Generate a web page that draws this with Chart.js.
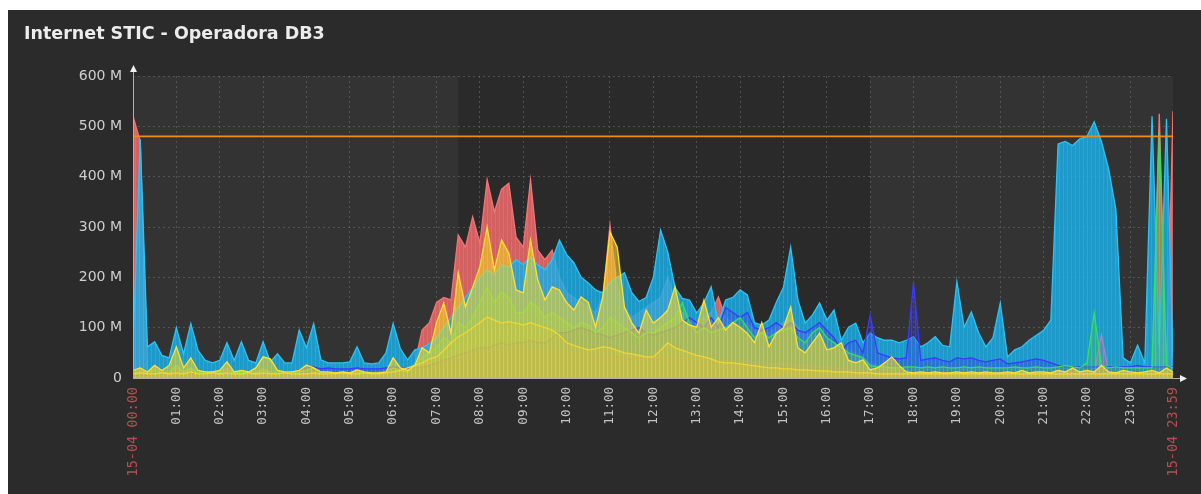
<!DOCTYPE html>
<html>
<head>
<meta charset="utf-8">
<title>Internet STIC - Operadora DB3</title>
<script src="https://cdn.jsdelivr.net/npm/chart.js@4.4.1/dist/chart.umd.min.js"></script>
<style>
    html, body { margin: 0; padding: 0; background: #ffffff; }
    #panel { position: absolute; left: 8px; top: 10px; width: 1193px; height: 484px; background: #2b2b2b; }
    canvas { display: block; }
</style>
</head>
<body>
<div id="panel"><canvas id="graph" width="1193" height="484"></canvas></div>
<script>
// --- Data (Mbps, one sample every 10 min, last sample at 23:59) ---
const times = [];
for (let m = 0; m < 1440; m += 10) times.push(m);
times.push(1439);

const hourTicks = [];
for (let h = 0; h < 24; h++) hourTicks.push(h * 60);
hourTicks.push(1439);

const yTicks = [0, 100, 200, 300, 400, 500, 600];
const threshold = 480;
const workPeriod = [450, 1020]; // 07:30 - 17:00

const cyan = [
    60, 475, 62, 72, 45, 40,      // 00
    100, 48, 108, 55, 35, 30,     // 01
    35, 70, 35, 72, 35, 30,       // 02
    72, 32, 48, 30, 30, 95,       // 03
    60, 108, 36, 30, 30, 30,      // 04
    32, 62, 30, 28, 30, 50,       // 05
    108, 58, 36, 56, 60, 68,      // 06
    80, 100, 120, 140, 160, 180,  // 07
    200, 215, 205, 225, 220, 235, // 08
    225, 240, 225, 215, 235, 274, // 09
    245, 229, 200, 189, 175, 169, // 10
    190, 200, 209, 170, 152, 160, // 11
    200, 294, 250, 180, 158, 155, // 12
    129, 150, 181, 110, 155, 160, // 13
    175, 165, 110, 105, 115, 150, // 14
    180, 260, 155, 109, 125, 149, // 15
    115, 135, 75, 101, 109, 70,   // 16
    89, 80, 75, 75, 70, 75,       // 17
    82, 62, 70, 82, 65, 62,       // 18
    191, 101, 131, 90, 62, 80,    // 19
    149, 42, 56, 62, 75, 85,      // 20
    95, 115, 465, 470, 462, 475,  // 21
    480, 509, 470, 415, 334, 40,  // 22
    30, 65, 30, 520, 60, 515,     // 23
    40
];

const red = [
    520, 470, 8, 10, 8, 10,
    12, 8, 15, 10, 8, 8,
    10, 12, 8, 10, 8, 8,
    12, 8, 10, 8, 8, 12,
    15, 18, 10, 8, 8, 8,
    8, 10, 8, 8, 8, 10,
    20, 15, 12, 30, 95, 110,
    150, 160, 155, 284, 260, 320,
    268, 394, 330, 375, 387, 280,
    260, 394, 254, 235, 254, 200,
    170, 160, 150, 140, 130, 160,
    304, 180, 140, 120, 130, 140,
    150, 160, 200, 150, 130, 120,
    110, 120, 130, 161, 120, 110,
    100, 110, 95, 90, 90, 100,
    110, 120, 100, 85, 90, 80,
    75, 70, 60, 55, 50, 40,
    30, 25, 20, 18, 15, 15,
    15, 12, 12, 10, 10, 10,
    10, 12, 10, 10, 10, 10,
    10, 10, 8, 10, 10, 8,
    10, 10, 12, 10, 10, 12,
    10, 12, 10, 10, 12, 10,
    10, 10, 10, 10, 525, 12,
    530
];

const yellow = [
    15, 20, 12, 25, 15, 25,
    62, 20, 40, 15, 12, 12,
    15, 32, 12, 15, 12, 20,
    42, 38, 15, 12, 12, 15,
    26, 20, 12, 12, 10, 12,
    10, 16, 12, 10, 10, 12,
    40, 20, 15, 25, 60, 50,
    110, 149, 89, 209, 141, 180,
    221, 300, 215, 274, 248, 175,
    169, 274, 195, 155, 181, 175,
    150, 135, 161, 150, 101, 161,
    290, 260, 141, 110, 89, 135,
    109, 120, 135, 181, 115, 105,
    101, 155, 101, 120, 95, 110,
    101, 89, 70, 110, 62, 89,
    100, 141, 60, 50, 70, 89,
    56, 60, 70, 35, 30, 36,
    16, 20, 30, 42, 25, 12,
    10, 12, 10, 12, 10, 10,
    12, 10, 12, 10, 12, 10,
    10, 12, 10, 15, 10, 12,
    12, 10, 15, 12, 20, 12,
    15, 12, 25, 12, 10, 15,
    12, 10, 12, 15, 10, 20,
    12
];

const gold = [
    8, 10, 8, 8, 10, 8,
    10, 8, 12, 8, 8, 10,
    8, 10, 8, 8, 10, 8,
    10, 8, 8, 10, 8, 8,
    8, 10, 8, 8, 8, 10,
    8, 8, 10, 8, 8, 10,
    12, 15, 20, 25, 30, 38,
    42, 55, 70, 82, 90, 100,
    110, 121, 115, 109, 112, 109,
    105, 110, 105, 100, 95, 85,
    70, 65, 60, 56, 58, 62,
    60, 55, 50, 48, 45, 42,
    42, 55, 70, 60, 55, 50,
    45, 42, 38, 32, 30, 30,
    28, 26, 24, 22, 20, 20,
    18, 18, 16, 16, 15, 14,
    14, 12, 12, 12, 10, 10,
    10, 8, 8, 8, 8, 8,
    8, 8, 8, 8, 8, 8,
    8, 8, 8, 8, 8, 8,
    8, 8, 8, 8, 8, 8,
    8, 8, 8, 8, 8, 8,
    8, 8, 8, 8, 8, 8,
    8, 8, 8, 8, 8, 8,
    8
];

const green = [
    10, 12, 10, 15, 10, 10,
    25, 12, 20, 10, 10, 10,
    10, 15, 10, 12, 10, 10,
    15, 10, 10, 10, 10, 12,
    15, 20, 10, 10, 10, 10,
    10, 12, 10, 10, 10, 10,
    20, 15, 12, 25, 40, 50,
    60, 80, 70, 110, 100, 120,
    150, 180, 150, 170, 160, 130,
    130, 150, 140, 120, 130, 120,
    110, 100, 110, 105, 90, 100,
    120, 110, 100, 90, 80, 90,
    90, 100, 110, 120, 149, 110,
    90, 100, 90, 95, 100, 110,
    120, 100, 80, 90, 80, 90,
    95, 100, 80, 70, 90, 100,
    80, 70, 60, 50, 45, 40,
    25, 22, 22, 20, 20, 22,
    22, 20, 22, 20, 22, 20,
    20, 22, 20, 22, 20, 20,
    20, 20, 22, 20, 20, 22,
    20, 20, 22, 25, 22, 20,
    30, 129, 25, 20, 22, 20,
    20, 20, 20, 20, 490, 25,
    20
];

const blue = [
    5, 5, 5, 8, 8, 8,
    10, 8, 10, 8, 8, 8,
    10, 12, 10, 10, 10, 10,
    12, 10, 10, 12, 10, 15,
    20, 22, 18, 20, 18, 18,
    18, 20, 18, 18, 18, 20,
    22, 20, 18, 20, 22, 25,
    30, 35, 40, 45, 50, 55,
    60, 60, 65, 70, 65, 70,
    70, 75, 70, 70, 80, 90,
    90, 95, 100, 95, 90, 85,
    80, 85, 90, 95, 100, 90,
    85, 90, 95, 100, 110, 120,
    110, 100, 120, 100, 140, 130,
    120, 130, 100, 95, 100, 110,
    100, 110, 95, 90, 100, 110,
    95, 80, 55, 70, 75, 50,
    125, 50, 45, 40, 38, 40,
    189, 35, 38, 40, 35, 32,
    40, 38, 40, 35, 32, 35,
    38, 28, 30, 32, 35, 38,
    35, 30, 25, 22, 22, 22,
    22, 22, 22, 22, 22, 22,
    22, 25, 22, 22, 22, 22,
    22
];

const purple = [
    12, 15, 10, 18, 12, 10,
    20, 12, 18, 10, 12, 10,
    12, 20, 10, 15, 10, 12,
    18, 12, 10, 12, 10, 15,
    20, 22, 12, 10, 10, 12,
    10, 15, 10, 10, 12, 12,
    22, 15, 14, 18, 25, 30,
    30, 35, 40, 42, 45, 48,
    50, 52, 55, 55, 56, 58,
    58, 56, 55, 55, 54, 52,
    52, 50, 50, 48, 48, 46,
    46, 45, 44, 44, 42, 42,
    42, 40, 42, 40, 40, 38,
    38, 36, 36, 35, 34, 34,
    32, 32, 30, 30, 28, 28,
    28, 26, 26, 24, 24, 22,
    22, 20, 18, 16, 15, 14,
    12, 12, 10, 10, 10, 10,
    10, 8, 10, 8, 10, 8,
    10, 8, 10, 8, 10, 8,
    10, 8, 10, 8, 10, 8,
    10, 8, 10, 12, 10, 12,
    12, 10, 85, 12, 10, 10,
    10, 8, 10, 10, 12, 10,
    10
];

document.addEventListener('DOMContentLoaded', () => {
    const ctx = document.getElementById('graph').getContext('2d');

    // Zabbix-like fill: solid colour with a faint light column every 4 px
    const striped = (rgb, alpha) => {
        const tile = document.createElement('canvas');
        tile.width = 4;
        tile.height = 1;
        const t = tile.getContext('2d');
        t.fillStyle = `rgba(${rgb}, ${alpha})`;
        t.fillRect(0, 0, 4, 1);
        t.fillStyle = 'rgba(255, 255, 255, 0.09)';
        t.fillRect(3, 0, 1, 1);
        return ctx.createPattern(tile, 'repeat');
    };

    const toPoints = vals => vals.map((v, i) => ({ x: times[i], y: v }));

    const series = (label, vals, line, fill) => ({
        label,
        data: toPoints(vals),
        borderColor: line,
        backgroundColor: fill,
        borderWidth: 1.3,
        pointRadius: 0,
        tension: 0,
        fill: 'origin'
    });

    const isEdge = v => v === 0 || v === 1439;
    const edgeTick = c => !!(c && c.tick && isEdge(c.tick.value));
    const hhmm = v => String(Math.floor(v / 60)).padStart(2, '0') + ':' + String(v % 60).padStart(2, '0');

    // --- Background shading + axis arrows ---
    const panelDecor = {
        id: 'panelDecor',
        beforeDraw(chart) {
            const { ctx, chartArea: a, scales: { x } } = chart;
            ctx.save();
            ctx.fillStyle = '#333333';
            ctx.fillRect(a.left, a.top, a.right - a.left, a.bottom - a.top);
            const w0 = x.getPixelForValue(workPeriod[0]);
            const w1 = x.getPixelForValue(workPeriod[1]);
            ctx.fillStyle = '#2a2a2a';
            ctx.fillRect(w0, a.top, w1 - w0, a.bottom - a.top);
            ctx.restore();
        },
        afterDraw(chart) {
            const { ctx, chartArea: a } = chart;
            const left = Math.round(a.left) + 0.5;
            const bottom = Math.round(a.bottom) + 0.5;
            ctx.save();
            ctx.strokeStyle = '#b0b0b0';
            ctx.lineWidth = 1;
            ctx.beginPath();
            ctx.moveTo(left, a.bottom);
            ctx.lineTo(left, a.top - 6);
            ctx.moveTo(a.left, bottom);
            ctx.lineTo(a.right + 8, bottom);
            ctx.stroke();
            ctx.fillStyle = '#f0f0f0';
            ctx.beginPath();
            ctx.moveTo(left, a.top - 11);
            ctx.lineTo(left - 3.5, a.top - 4);
            ctx.lineTo(left + 3.5, a.top - 4);
            ctx.closePath();
            ctx.fill();
            ctx.beginPath();
            ctx.moveTo(a.right + 14, bottom);
            ctx.lineTo(a.right + 7, bottom - 3.5);
            ctx.lineTo(a.right + 7, bottom + 3.5);
            ctx.closePath();
            ctx.fill();
            ctx.restore();
        }
    };

    new Chart(ctx, {
        type: 'line',
        data: {
            datasets: [
                {
                    label: 'Trigger',
                    data: [{ x: times[0], y: threshold }, { x: times[times.length - 1], y: threshold }],
                    borderColor: '#f08c10',
                    borderWidth: 1.6,
                    pointRadius: 0,
                    fill: false
                },
                series('Yellow', yellow, '#ffe033', striped('240, 210, 40', 0.6)),
                series('Gold', gold, '#ecd84a', striped('190, 180, 70', 0.35)),
                series('Green', green, '#35e060', striped('70, 200, 90', 0.35)),
                series('Blue', blue, '#3a3aff', striped('55, 55, 225', 0.38)),
                series('Purple', purple, '#a884c8', striped('150, 120, 175', 0.55)),
                series('Cyan', cyan, '#2cc4f4', striped('26, 172, 228', 0.85)),
                series('Red', red, '#f27474', striped('226, 102, 102', 0.92))
            ]
        },
        options: {
            responsive: false,
            animation: false,
            layout: { padding: { left: 16, right: 28, top: 0, bottom: 0 } },
            scales: {
                x: {
                    type: 'linear',
                    min: 0,
                    max: 1439,
                    afterBuildTicks: s => { s.ticks = hourTicks.map(v => ({ value: v })); },
                    afterFit: s => { s.height = 116; },
                    border: { display: false, dash: [2, 3] },
                    grid: {
                        drawTicks: false,
                        color: c => edgeTick(c) ? 'rgba(0,0,0,0)' : 'rgba(120, 120, 120, 0.5)'
                    },
                    ticks: {
                        autoSkip: false,
                        minRotation: 90,
                        maxRotation: 90,
                        padding: 9,
                        color: c => edgeTick(c) ? '#b4504f' : '#c4c4c4',
                        font: c => ({ family: 'DejaVu Sans Mono', size: edgeTick(c) ? 13.5 : 12.5 }),
                        callback: v => isEdge(v) ? '15-04 ' + hhmm(v) : hhmm(v)
                    }
                },
                y: {
                    min: 0,
                    max: 600,
                    afterBuildTicks: s => { s.ticks = yTicks.map(v => ({ value: v })); },
                    afterFit: s => { s.width = 109; },
                    border: { display: false, dash: [2, 3] },
                    grid: {
                        drawTicks: false,
                        color: c => (c && c.tick && c.tick.value === 0) ? 'rgba(0,0,0,0)' : 'rgba(120, 120, 120, 0.5)'
                    },
                    ticks: {
                        padding: 11,
                        color: '#cfcfcf',
                        font: { family: 'DejaVu Sans', size: 14 },
                        callback: v => v === 0 ? '0' : v + ' M'
                    }
                }
            },
            plugins: {
                legend: { display: false },
                tooltip: { enabled: false },
                title: {
                    display: true,
                    text: 'Internet STIC - Operadora DB3',
                    align: 'start',
                    color: '#ececec',
                    font: { family: 'DejaVu Sans', size: 17.5, weight: 'bold' },
                    padding: { top: 14, bottom: 31 }
                }
            }
        },
        plugins: [panelDecor]
    });
});
</script>
</body>
</html>
